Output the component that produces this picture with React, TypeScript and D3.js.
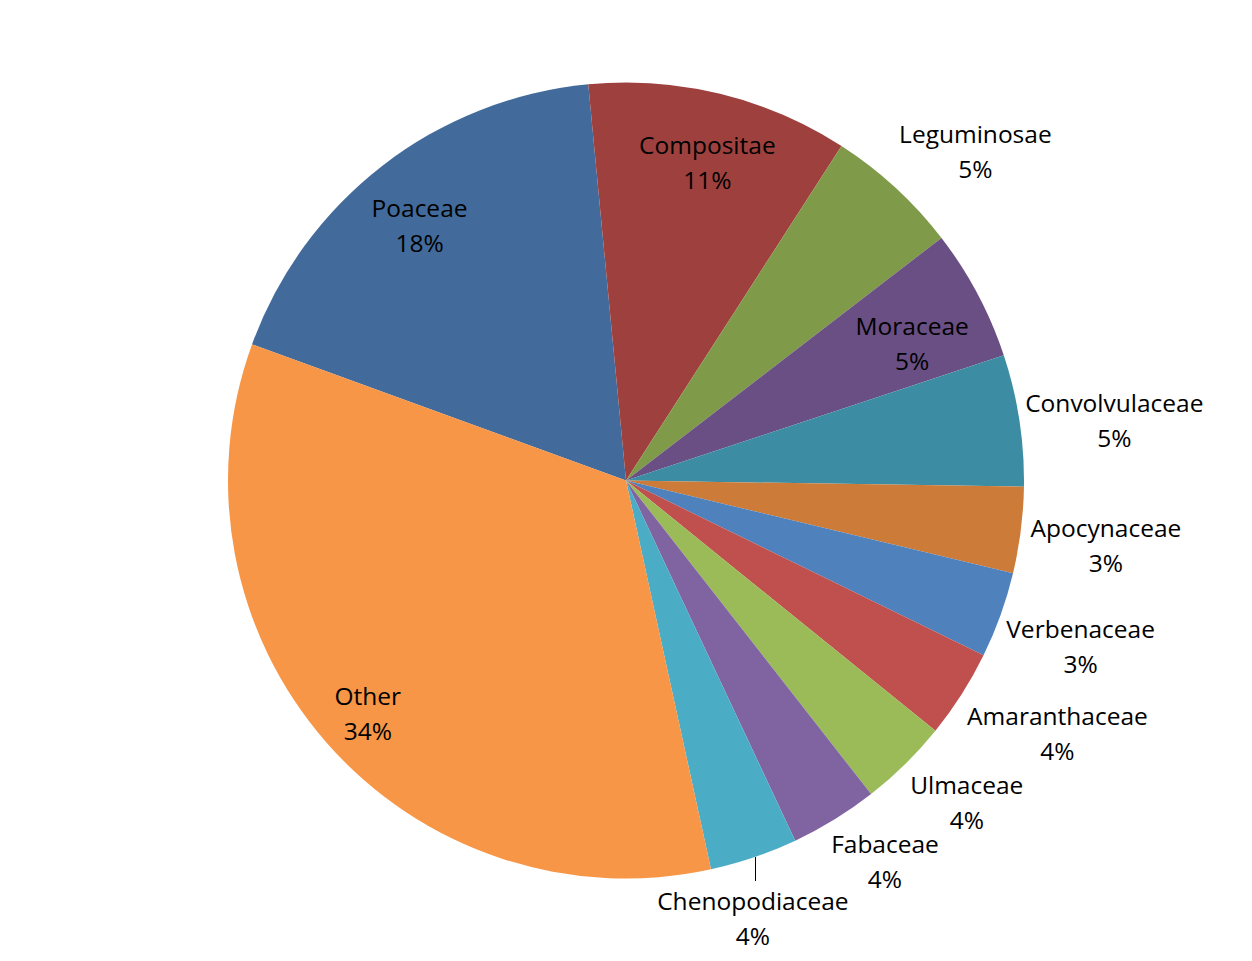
import React from "react";
import * as d3 from "d3";

// ---- data ----
const categories = [
  "Poaceae",
  "Compositae",
  "Leguminosae",
  "Moraceae",
  "Convolvulaceae",
  "Apocynaceae",
  "Verbenaceae",
  "Amaranthaceae",
  "Ulmaceae",
  "Fabaceae",
  "Chenopodiaceae",
  "Other",
];
const shares = [17.9, 10.6, 5.45, 5.33, 5.33, 3.49, 3.49, 3.58, 3.61, 3.56, 3.56, 33.92];

// ---- styles ----
const colors = [
  "#426A9B",
  "#9E413E",
  "#7F9A48",
  "#694F83",
  "#3C8DA3",
  "#CC7B38",
  "#4F81BD",
  "#C0504D",
  "#9BBB59",
  "#8064A2",
  "#4BACC6",
  "#F79646",
];
// label placement: angle shift (deg) from slice middle, radius as fraction of pie radius
const labelAngleShift = [-1.3, 0.7, 4.1, 2.4, 1.8, 0.6, 0.3, -2.1, -2.1, -2.6, 2.6, -0.9];
const labelRadius = [0.824, 0.824, 1.206, 0.797, 1.236, 1.217, 1.216, 1.257, 1.178, 1.158, 1.146, 0.874];
const labelLeader = [false, false, false, false, false, false, false, false, false, false, true, false];

const W = 1252;
const H = 961;
const CX = 626;
const CY = 480.5;
const R = 398;
const FONT = "'Open Sans', 'Noto Sans', sans-serif";
const FS = 24.5;
const LINE = 35;

export default function App() {
  const total = d3.sum(shares);
  const data = categories.map((c, i) => ({ name: c, value: shares[i], i }));
  const pie = d3
    .pie<any>()
    .sort(null)
    .value((d: any) => d.value)
    .startAngle((-70 * Math.PI) / 180)
    .endAngle((290 * Math.PI) / 180);
  const arcs = pie(data);
  const arcGen = d3.arc<any>().innerRadius(0).outerRadius(R);
  const capH = FS * 0.714;

  return (
    <div style={{ position: "fixed", left: 0, top: 0 }}>
      <svg width={W} height={H} style={{ display: "block", background: "#fff" }}>
        <g transform={`translate(${CX},${CY})`}>
          {arcs.map((a: any) => (
            <path key={a.data.name} d={arcGen(a) as string} fill={colors[a.data.i]} stroke="none" />
          ))}
          {arcs.map((a: any) => {
            const i = a.data.i;
            const mid = (a.startAngle + a.endAngle) / 2 + (labelAngleShift[i] * Math.PI) / 180;
            const r = labelRadius[i] * R;
            const lx = r * Math.sin(mid);
            const ly = -r * Math.cos(mid);
            const pct = Math.round((a.data.value / total) * 100) + "%";
            const y1 = ly - LINE / 2 + capH / 2;
            const y2 = ly + LINE / 2 + capH / 2;
            let leader = null;
            if (labelLeader[i]) {
              const ex = Math.round(lx + 2) + 0.5;
              const ey = Math.sqrt(R * R - ex * ex);
              const top = ly - LINE / 2 - capH / 2 - 11;
              leader = (
                <line
                  x1={ex}
                  y1={ey}
                  x2={ex}
                  y2={top}
                  stroke="#000"
                  strokeWidth={1}
                  shapeRendering="crispEdges"
                />
              );
            }
            return (
              <g key={"l" + a.data.name}>
                {leader}
                <text textAnchor="middle" fontFamily={FONT} fontSize={FS} fill="#000">
                  <tspan x={lx} y={y1}>{a.data.name}</tspan>
                  <tspan x={lx} y={y2}>{pct}</tspan>
                </text>
              </g>
            );
          })}
        </g>
      </svg>
    </div>
  );
}
